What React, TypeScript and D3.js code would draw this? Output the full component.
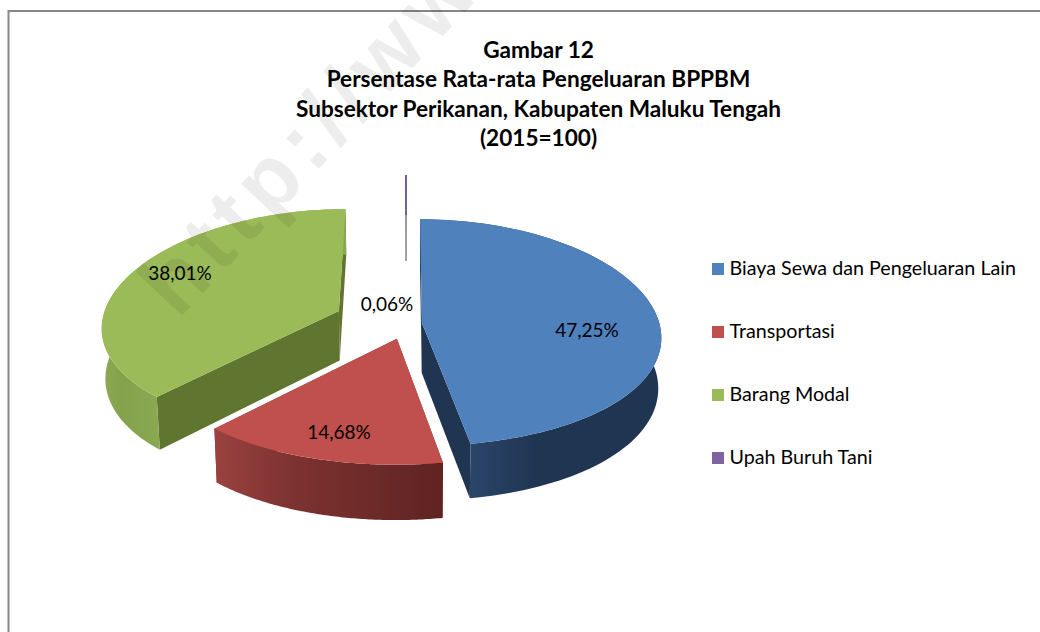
import React from "react";
import * as d3 from "d3";

const categories = ["Biaya Sewa dan Pengeluaran Lain", "Transportasi", "Barang Modal", "Upah Buruh Tani"];
const values = [47.25, 14.68, 38.01, 0.06];
const valueLabels = ["47,25%", "14,68%", "38,01%", "0,06%"];
const explosions = [0.065, 0.14, 0.31, 1.05];
const topColors = ["#4f81bd", "#c0504d", "#9bbb59", "#8064a2"];
const wallColors = ["#1f3552", "#7a2f2d", "#60752f", "#4a3a60"];
const sideStops = [
  ["#2b4569", "#1f3552", "#1f3552"],
  ["#9b4240", "#7c3230", "#5f2322"],
  ["#8dab53", "#84a14c", "#8aa851"],
  ["#4a3a60", "#4a3a60", "#4a3a60"],
];
const titleLines = [
  "Gambar 12",
  "Persentase Rata-rata Pengeluaran BPPBM",
  "Subsektor Perikanan, Kabupaten Maluku Tengah",
  "(2015=100)",
];
const watermark = "http://www.bps.go.id";

const W = 1040, H = 632;
const cx = 406.5, cy = 323.5, A = 237.5, B = 112.5, P = 0.085, PX = 0.125, DEPTH = 50, SHRINK = 0.988;
const FONT = "Lato, Carlito, Calibri, sans-serif";
const labelPos = [[587, 337], [339, 439], [180, 280], [387, 311]];

type Pt = [number, number];
const xScale = d3.scaleLinear().domain([-1, 1]).range([-A, A]);
const yScale = d3.scaleLinear().domain([-1, 1]).range([B, -B]);
const project = (u: number, w: number): Pt => {
  return [cx + xScale(u) / (1 + PX * w), cy + yScale(w) / (1 + P * w)];
};
const lower = (u: number, w: number): Pt => {
  const s = 1 / (1 + P * w);
  const [x, y] = project(u, w);
  return [cx + (x - cx) * SHRINK, y + DEPTH * s];
};
const pathOf = d3.line<Pt>().x((d) => d[0]).y((d) => d[1]);
const closed = (pts: Pt[]) => (pathOf(pts) ?? "") + "Z";

const arcs = d3.pie<number>().sort(null).startAngle(0).endAngle(2 * Math.PI)(values);
const paintOrder = [3, 2, 0, 1];

function sliceGeometry(i: number) {
  const a = arcs[i];
  const mid = (a.startAngle + a.endAngle) / 2;
  const ou = explosions[i] * Math.sin(mid);
  const ow = explosions[i] * Math.cos(mid);
  const thetas = d3.range(0, 97).map((k) => a.startAngle + ((a.endAngle - a.startAngle) * k) / 96);
  const rim = thetas.map((t) => [ou + Math.sin(t), ow + Math.cos(t)] as Pt);
  const topRim = rim.map(([u, w]) => project(u, w));
  const lowRim = rim.map(([u, w]) => lower(u, w));
  const apexTop = project(ou, ow);
  const apexLow = lower(ou, ow);
  const front = topRim.filter((_, k) => rim[k][1] - ow < 0).map((p) => p[0]);
  return {
    top: closed([apexTop, ...topRim]),
    side: closed([...topRim, ...lowRim.slice().reverse()]),
    wallStart: closed([apexTop, topRim[0], lowRim[0], apexLow]),
    wallEnd: closed([apexTop, topRim[96], lowRim[96], apexLow]),
    extent: (d3.extent(front.length ? front : topRim.map((p) => p[0])) as [number, number]),
  };
}

export default function App() {
  const geoms = values.map((_, i) => sliceGeometry(i));
  return (
    <svg
      width={W}
      height={H}
      viewBox={`0 0 ${W} ${H}`}
      style={{ position: "fixed", left: 0, top: 0, background: "#fff" }}
    >
      <defs>
        <clipPath id="plot">
          <rect x={0} y={175} width={W} height={H - 175} />
        </clipPath>
        {geoms.map((g, i) => (
          <linearGradient key={i} id={`side${i}`} gradientUnits="userSpaceOnUse" x1={g.extent[0]} x2={g.extent[1]} y1={0} y2={0}>
            {sideStops[i].map((c, k) => (
              <stop key={k} offset={k === 1 ? 0.35 : k / 2} stopColor={c} />
            ))}
          </linearGradient>
        ))}
      </defs>

      <rect x={8.5} y={11} width={W + 40} height={H + 40} fill="#fff" stroke="#868686" strokeWidth={2} />

      <g fontFamily={FONT} fontWeight={700} fontSize={22.6} fill="#000" textAnchor="middle">
        {titleLines.map((t, i) => (
          <text key={t} x={538.5} y={58 + i * 29.3}>{t}</text>
        ))}
      </g>

      <g clipPath="url(#plot)">
        {paintOrder.map((i) => {
          const g = geoms[i];
          const thin = i === 3;
          return (
            <g key={i}>
              <path d={g.wallStart} fill={wallColors[i]} stroke={thin ? "#8d8d96" : "none"} strokeWidth={thin ? 0.7 : 0} />
              <path d={g.wallEnd} fill={wallColors[i]} stroke={thin ? "#8d8d96" : "none"} strokeWidth={thin ? 0.7 : 0} />
              <path d={g.side} fill={`url(#side${i})`} />
              <path d={g.top} fill={topColors[i]} stroke={thin ? "#6a4f96" : "none"} strokeWidth={thin ? 1 : 0} />
            </g>
          );
        })}
      </g>

      <g fontFamily={FONT} fontSize={19} fill="#000" textAnchor="middle">
        {valueLabels.map((t, i) => (
          <text key={t} x={labelPos[i][0]} y={labelPos[i][1]}>{t}</text>
        ))}
      </g>

      <g fontFamily={FONT} fontSize={19.7} fill="#000">
        {categories.map((c, i) => (
          <g key={c} transform={`translate(0,${263 + i * 63})`}>
            <rect x={712} y={0} width={12} height={12} fill={topColors[i]} />
            <text x={729.5} y={12}>{c}</text>
          </g>
        ))}
      </g>

      <text
        transform="translate(178,320) rotate(-47)"
        fontFamily="'Liberation Sans', sans-serif"
        fontWeight={700}
        fontSize={88}
        letterSpacing={8}
        fill="#000"
        fillOpacity={0.07}
      >
        {watermark}
      </text>
    </svg>
  );
}
